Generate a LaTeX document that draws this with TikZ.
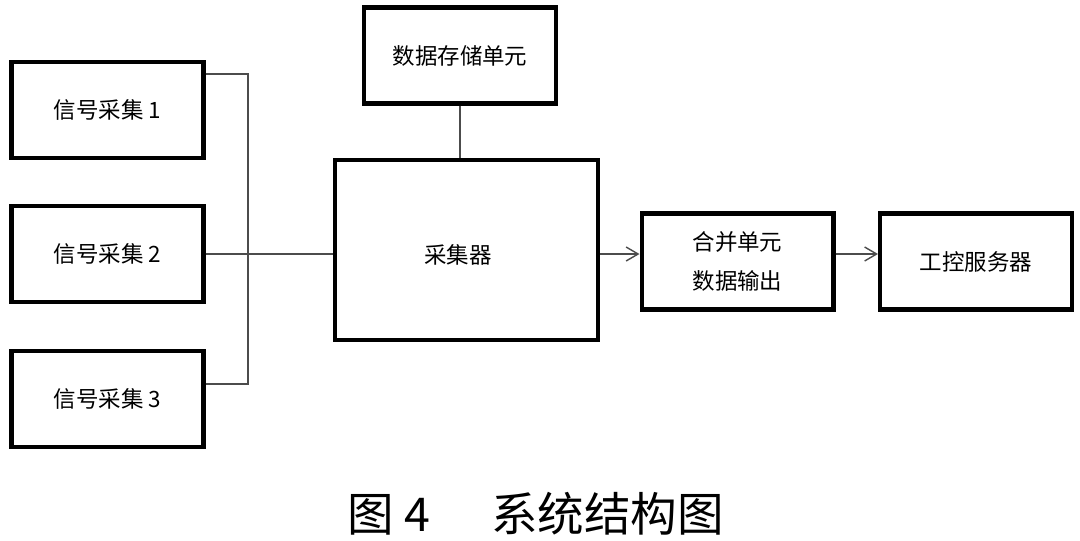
\documentclass[tikz,border=0pt]{standalone}
\usepackage{fontspec}
\newfontfamily\cjk{Noto Sans CJK SC}
\usetikzlibrary{positioning, arrows.meta, calc}

\tikzset{
  block/.style={draw, line width=2.3pt, minimum width=3.84cm, minimum height=1.92cm,
    inner sep=0pt, align=center, font=\cjk\fontsize{12.8}{22.7}\selectfont},
  link/.style={draw=black!70, line width=0.8pt},
  arr/.style={link, -{Straight Barb[length=2.4mm, width=2.8mm, line width=0.8pt]}}
}

\begin{document}
\begin{tikzpicture}[x=0.02cm, y=-0.02cm]
        \useasboundingbox (0,0) rectangle (1080,541);

        % signal inputs
        \foreach \i/\y in {1/110, 2/254, 3/399} {
          \node[block] (sig\i) at (107.5,\y) {信号采集 \i};
        }

        % middle column
        \node[block] (store) at (460,55.5) {数据存储单元};
        \node[block, minimum width=5.26cm, minimum height=3.6cm] (coll) at (466.5,250) {};
        \node[font=\cjk\fontsize{12.8}{22.7}\selectfont] (colltext) at (458,255) {采集器};

        % right column
        \node[block] (merge) at (737.5,261.5) {合并单元\\数据输出};
        \node[block] (server) at (976,261.5) {工控服务器};

        % bus on the left
        \coordinate (bustop) at (248,74);
        \coordinate (busbot) at (248,384);
        \draw[link] (sig1.east |- bustop) -- (bustop) -- (busbot) -- (sig3.east |- busbot);
        \draw[link] (sig2.east) -- (coll.west |- sig2.east);

        \draw[link] (store.south) -- (store.south |- coll.north);

        \draw[arr] (coll.east |- 0,254) -- (merge.west |- 0,254);
        \draw[arr] (merge.east |- 0,254) -- (server.west |- 0,254);

        \node[font=\cjk\fontsize{26.5}{30}\selectfont] (cap) at (536,514) {图 4\hspace{1.3em}系统结构图};
      \end{tikzpicture}
\end{document}
